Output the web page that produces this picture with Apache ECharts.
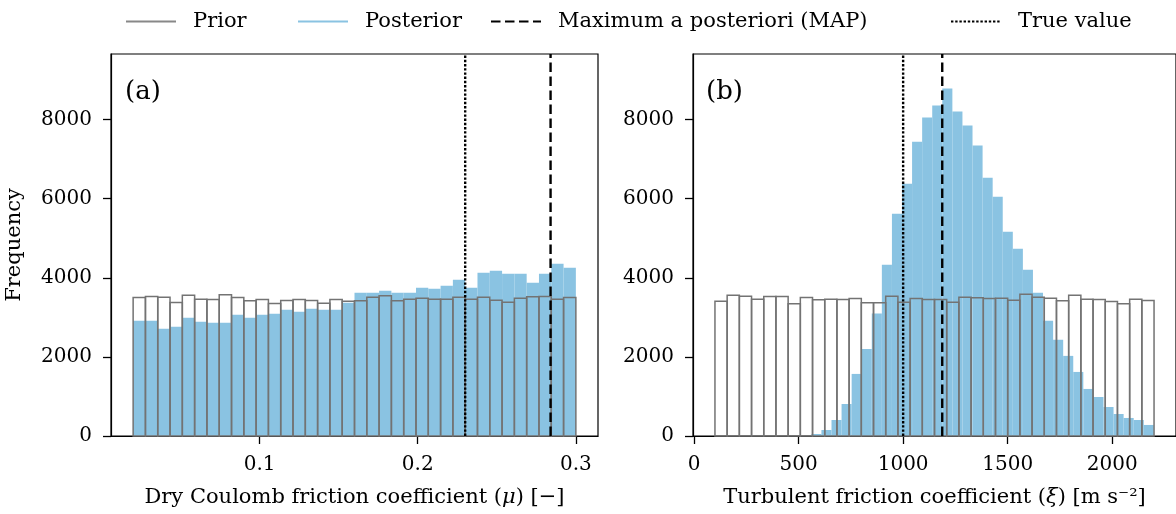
<!DOCTYPE html>
<html>
<head>
<meta charset="utf-8">
<script src="https://cdn.jsdelivr.net/npm/echarts@6/dist/echarts.min.js"></script>
<style>
  html, body { margin: 0; padding: 0; background: #fff; }
  #chart { width: 1176px; height: 514px; }
</style>
</head>
<body>
<div id="chart"></div>
<script>
// bin layout of the histograms (edges from start/end and bin count)
const binsA = { start: 0.02, end: 0.3, count: 36 };
const binsPriorB = { start: 100, end: 2200, count: 36 };
const binsPostB = { start: 561, end: 2199, count: 34 };

// counts
const priorA = [3502, 3528, 3511, 3376, 3562, 3460, 3452, 3570, 3502, 3418, 3452, 3350, 3426, 3452, 3426, 3359, 3452, 3410,
  3418, 3511, 3545, 3418, 3460, 3486, 3460, 3460, 3511, 3460, 3511, 3435, 3385, 3486, 3520, 3528, 3460, 3503];
const postA = [2912, 2912, 2709, 2760, 2988, 2886, 2861, 2861, 3064, 2988, 3064, 3089, 3190, 3140, 3215, 3190, 3190, 3367,
  3621, 3621, 3671, 3621, 3621, 3747, 3722, 3798, 3950, 3747, 4127, 4178, 4102, 4102, 3874, 4102, 4355, 4254];
const priorB = [3410, 3562, 3537, 3461, 3528, 3528, 3342, 3503, 3444, 3461, 3452, 3477, 3368, 3368, 3537, 3385, 3477, 3452,
  3452, 3385, 3511, 3494, 3477, 3486, 3435, 3587, 3511, 3486, 3418, 3562, 3461, 3452, 3401, 3342, 3461, 3426];
const postB = [51, 152, 405, 810, 1570, 2203, 3097, 4330, 5621, 6381, 7444, 8052, 8356, 8786, 8204, 7849, 7343, 6533,
  6051, 5165, 4735, 4203, 3621, 2912, 2431, 2026, 1620, 1190, 987, 734, 557, 456, 405, 279];

const mapMu = 0.284, trueMu = 0.23;
const mapXi = 1187, trueXi = 1000;

const yTicks = [0, 2000, 4000, 6000, 8000];
const xTicksA = [0.1, 0.2, 0.3];
const xTicksB = [0, 500, 1000, 1500, 2000];
const Y_MAX = 9660;

const font = 'DejaVu Serif';
const fs = 20;      // tick labels
const fsText = 21;  // legend / axis names
const blue = '#8AC3E2';
const edge = '#737373';

const toBars = (bins, counts) => {
  const w = (bins.end - bins.start) / bins.count;
  return counts.map((c, i) => [bins.start + i * w, bins.start + (i + 1) * w, c]);
};

const histRender = style => (params, api) => {
  const p0 = api.coord([api.value(0), api.value(2)]);
  const p1 = api.coord([api.value(1), 0]);
  return {
    type: 'rect',
    shape: { x: p0[0], y: p0[1], width: p1[0] - p0[0], height: p1[1] - p0[1] },
    style: style
  };
};

const vline = (name, x, idx, type) => ({
  name: name,
  type: 'line',
  xAxisIndex: idx,
  yAxisIndex: idx,
  symbol: 'none',
  z: 10,
  silent: true,
  itemStyle: { color: '#000' },
  lineStyle: { color: '#000', width: 2.4, type: type, cap: 'butt' },
  data: [[x, 0], [x, Y_MAX]]
});

const chart = echarts.init(document.getElementById('chart'));

const axisCommon = {
  axisLine: { show: true, onZero: false, lineStyle: { color: '#000', width: 1.2 } },
  axisTick: { show: true, length: 8, lineStyle: { color: '#000', width: 1.3 } },
  splitLine: { show: false },
  axisLabel: { color: '#000', fontFamily: font, fontSize: fs, formatter: v => String(v) }
};

const nameStyle = {
  color: '#000', fontFamily: font, fontSize: fsText,
  rich: { i: { fontStyle: 'italic', fontFamily: font, fontSize: fsText, color: '#000' } }
};

const dashType = [9.5, 4.5];
const dotType = [2.4, 1.8];

const legendNames = ['Prior', 'Posterior', 'Maximum a posteriori (MAP)', 'True value'];
const legendLeft = [120, 292, 485, 945];
const legends = legendNames.map((n, i) => ({
  data: [n],
  left: legendLeft[i],
  top: 6,
  itemWidth: 50,
  itemHeight: 24,
  selectedMode: false,
  itemStyle: { opacity: 0 },
  textStyle: { color: '#000', fontFamily: font, fontSize: fsText, padding: [0, 0, 0, 12] }
}));

const option = {
  animation: false,
  backgroundColor: '#fff',
  title: [
    { text: '(a)', left: 125, top: 79, padding: 0, textStyle: { fontFamily: font, fontSize: 26, fontWeight: 'normal', color: '#000' } },
    { text: '(b)', left: 706, top: 79, padding: 0, textStyle: { fontFamily: font, fontSize: 26, fontWeight: 'normal', color: '#000' } }
  ],
  legend: legends,
  grid: [
    { left: 111, top: 54, width: 487, height: 382, show: true, borderColor: '#000', borderWidth: 1.2 },
    { left: 693, top: 54, width: 488, height: 382, show: true, borderColor: '#000', borderWidth: 1.2 }
  ],
  xAxis: [
    {
      ...axisCommon, type: 'value', gridIndex: 0, min: 0.006, max: 0.314,
      axisTick: { ...axisCommon.axisTick, customValues: xTicksA },
      axisLabel: { ...axisCommon.axisLabel, margin: 19, customValues: xTicksA, formatter: v => v.toFixed(1) },
      name: 'Dry Coulomb friction coefficient ({i|μ}) [−]',
      nameLocation: 'middle', nameGap: 51, nameTextStyle: nameStyle
    },
    {
      ...axisCommon, type: 'value', gridIndex: 1, min: -5, max: 2305,
      axisTick: { ...axisCommon.axisTick, customValues: xTicksB },
      axisLabel: { ...axisCommon.axisLabel, margin: 19, customValues: xTicksB },
      name: 'Turbulent friction coefficient ({i|ξ}) [m s⁻²]',
      nameLocation: 'middle', nameGap: 51, nameTextStyle: nameStyle
    }
  ],
  yAxis: [
    {
      ...axisCommon, type: 'value', gridIndex: 0, min: 0, max: Y_MAX,
      axisTick: { ...axisCommon.axisTick, customValues: yTicks },
      axisLabel: { ...axisCommon.axisLabel, margin: 19, customValues: yTicks },
      name: 'Frequency', nameLocation: 'middle', nameGap: 86, nameTextStyle: nameStyle
    },
    {
      ...axisCommon, type: 'value', gridIndex: 1, min: 0, max: Y_MAX,
      axisTick: { ...axisCommon.axisTick, customValues: yTicks },
      axisLabel: { ...axisCommon.axisLabel, margin: 19, customValues: yTicks }
    }
  ],
  series: [
    // legend samples
    { name: 'Prior', type: 'line', symbol: 'none', data: [], lineStyle: { color: '#888', width: 3 }, itemStyle: { color: '#888' } },
    { name: 'Posterior', type: 'line', symbol: 'none', data: [], lineStyle: { color: blue, width: 3 }, itemStyle: { color: blue } },
    vline('Maximum a posteriori (MAP)', mapMu, 0, dashType),
    vline('True value', trueMu, 0, dotType),
    vline('Maximum a posteriori (MAP)', mapXi, 1, dashType),
    vline('True value', trueXi, 1, dotType),
    {
      name: 'Posterior', type: 'custom', xAxisIndex: 0, yAxisIndex: 0, z: 2, silent: true,
      renderItem: histRender({ fill: blue }), encode: { x: [0, 1], y: 2 },
      data: toBars(binsA, postA)
    },
    {
      name: 'Prior', type: 'custom', xAxisIndex: 0, yAxisIndex: 0, z: 3, silent: true,
      renderItem: histRender({ fill: null, stroke: edge, lineWidth: 1.5 }), encode: { x: [0, 1], y: 2 },
      data: toBars(binsA, priorA)
    },
    {
      name: 'Posterior', type: 'custom', xAxisIndex: 1, yAxisIndex: 1, z: 2, silent: true,
      renderItem: histRender({ fill: blue }), encode: { x: [0, 1], y: 2 },
      data: toBars(binsPostB, postB)
    },
    {
      name: 'Prior', type: 'custom', xAxisIndex: 1, yAxisIndex: 1, z: 3, silent: true,
      renderItem: histRender({ fill: null, stroke: edge, lineWidth: 1.5 }), encode: { x: [0, 1], y: 2 },
      data: toBars(binsPriorB, priorB)
    }
  ]
};

chart.setOption(option);
</script>
</body>
</html>
